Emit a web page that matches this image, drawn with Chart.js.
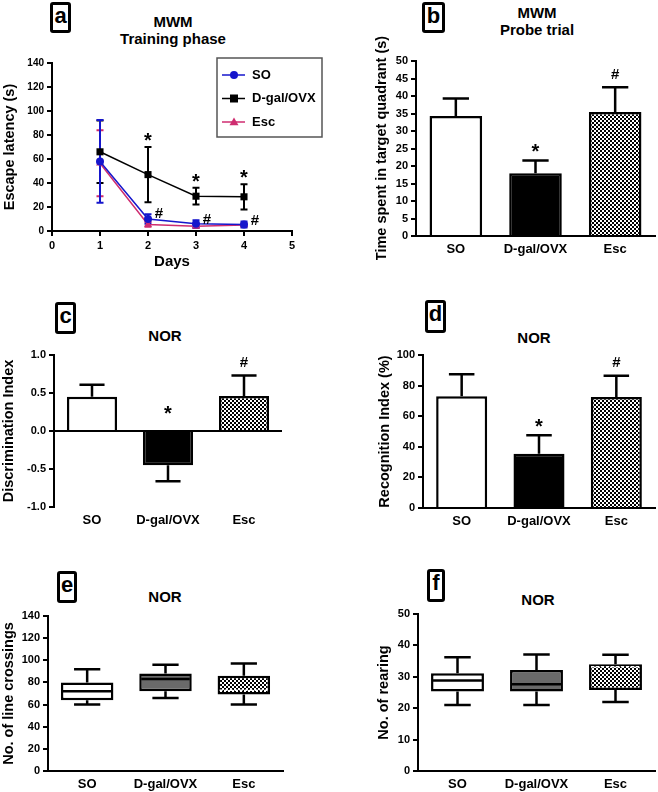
<!DOCTYPE html>
<html>
<head>
<meta charset="utf-8">
<script src="https://cdn.jsdelivr.net/npm/chart.js@4.4.0/dist/chart.umd.min.js"></script>
<style>
  body{margin:0;background:#fff;width:658px;height:792px;position:relative;overflow:hidden;
       font-family:"Liberation Sans",Arial,sans-serif;}
  canvas{position:absolute;}
  .lbl{position:absolute;border:3px solid #000;border-radius:3px;font-weight:bold;font-size:22px;
       text-align:center;box-sizing:border-box;line-height:22px;}
  .ttl{position:absolute;font-weight:bold;font-size:15px;text-align:center;width:200px;line-height:17px;}
</style>
</head>
<body>
<div class="lbl" style="left:50px;top:2px;width:21px;height:31px;">a</div>
<div class="lbl" style="left:422px;top:2px;width:23px;height:31px;">b</div>
<div class="lbl" style="left:55px;top:302px;width:21px;height:32px;">c</div>
<div class="lbl" style="left:425px;top:300px;width:21px;height:33px;">d</div>
<div class="lbl" style="left:57px;top:571px;width:20px;height:32px;">e</div>
<div class="lbl" style="left:427px;top:569px;width:18px;height:33px;">f</div>

<div class="ttl" style="left:73px;top:13px;">MWM<br>Training phase</div>
<div class="ttl" style="left:437px;top:4px;">MWM<br>Probe trial</div>
<div class="ttl" style="left:65px;top:327px;">NOR</div>
<div class="ttl" style="left:434px;top:329px;">NOR</div>
<div class="ttl" style="left:65px;top:588px;">NOR</div>
<div class="ttl" style="left:438px;top:591px;">NOR</div>

<canvas id="chartA" width="329" height="275" style="left:0;top:0;"></canvas>
<canvas id="chartB" width="328" height="260" style="left:330px;top:0;"></canvas>
<canvas id="chartC" width="329" height="192" style="left:0;top:340px;"></canvas>
<canvas id="chartD" width="328" height="192" style="left:330px;top:340px;"></canvas>
<canvas id="chartE" width="329" height="192" style="left:0;top:600px;"></canvas>
<canvas id="chartF" width="328" height="192" style="left:330px;top:600px;"></canvas>

<script>
const groups = ['SO', 'D-gal/OVX', 'Esc'];

// a - MWM training phase, mean +/- SEM
const days = [1, 2, 3, 4];
const latencySO = [58, 10, 6, 5.5];
const latencySOsem = [34.5, 4, 3, 2.5];
const latencyDgal = [66, 47, 29, 28.5];
const latencyDgalSem = [26, 23, 7, 10.5];
const latencyEsc = [56.5, 5.5, 4, 5];
const latencyEscSem = [27.5, 2, 1.5, 1];
const starsA = ['', '*', '*', '*'];
const hashA = ['', '#', '#', '#'];

// b - probe trial
const probeMean = [34.3, 17.9, 35.4];
const probeSem = [5.0, 3.7, 7.1];
// c - discrimination index
const discMean = [0.45, -0.45, 0.46];
const discSem = [0.16, 0.21, 0.27];
// d - recognition index
const recogMean = [73, 35.5, 72.5];
const recogSem = [14.5, 12, 14];
const sigBars = ['', '*', '#'];

// e - line crossings (box plot)
const crossMin = [60, 66, 60];
const crossQ1 = [64, 72, 69];
const crossMed = [72, 83, 73];
const crossQ3 = [80, 88, 86];
const crossMax = [92, 96, 97];
// f - rearing (box plot)
const rearMin = [21, 21, 22];
const rearQ1 = [25.3, 25.3, 25.8];
const rearMed = [28.8, 27.6, 33.2];
const rearQ3 = [31.1, 32.2, 34];
const rearMax = [36.2, 37.1, 37];

const FONT = '"Liberation Sans", Arial, sans-serif';
Chart.defaults.font.family = FONT;
Chart.defaults.color = '#000';
Chart.defaults.animation = false;
Chart.defaults.responsive = false;
Chart.defaults.maintainAspectRatio = false;
Chart.defaults.plugins.legend.display = false;
Chart.defaults.plugins.tooltip.enabled = false;

function checker() {
  const c = document.createElement('canvas');
  c.width = 4; c.height = 4;
  const g = c.getContext('2d');
  g.fillStyle = '#fff'; g.fillRect(0, 0, 4, 4);
  g.fillStyle = '#000'; g.fillRect(0, 0, 2, 2); g.fillRect(2, 2, 2, 2);
  return g.createPattern(c, 'repeat');
}

function drawMark(ctx, ch, x, yc) {
  if (!ch) return;
  ctx.save();
  ctx.fillStyle = '#000';
  ctx.textAlign = 'center';
  ctx.textBaseline = 'alphabetic';
  if (ch === '*') { ctx.font = 'bold 20px ' + FONT; ctx.fillText(ch, x, yc + 11.7); }
  else { ctx.font = 'bold 15px ' + FONT; ctx.fillText(ch, x, yc + 5.3); }
  ctx.restore();
}

function yAxis(min, max, step, title, width, size, fmt) {
  return {
    min: min, max: max,
    ticks: {stepSize: step, font: {size: size, weight: 'bold'}, color: '#000', padding: 3,
            callback: fmt || (v => v)},
    grid: {drawOnChartArea: false, tickLength: 5, color: '#000', lineWidth: 2},
    border: {color: '#000', width: 2},
    title: {display: true, text: title, color: '#000', font: {size: 14.5, weight: 'bold'},
            padding: {top: 0, bottom: 0}},
    afterFit: s => { s.width = width; }
  };
}

function xCat(height) {
  return {
    grid: {display: false, drawTicks: false},
    border: {color: '#000', width: 2},
    ticks: {font: {size: 13, weight: 'bold'}, color: '#000', padding: 6},
    afterFit: s => { s.height = height; }
  };
}

function barErrors(values, sem, sig) {
  return {
    id: 'barErrors',
    afterDatasetsDraw(chart) {
      const ctx = chart.ctx, y = chart.scales.y, bars = chart.getDatasetMeta(0).data;
      ctx.save();
      ctx.strokeStyle = '#000'; ctx.lineWidth = 2.5;
      bars.forEach((bar, i) => {
        const v = values[i], dir = v < 0 ? -1 : 1;
        const tip = y.getPixelForValue(v + dir * sem[i]);
        const half = bar.width / 4;
        ctx.beginPath();
        ctx.moveTo(bar.x, bar.y); ctx.lineTo(bar.x, tip);
        ctx.moveTo(bar.x - half, tip); ctx.lineTo(bar.x + half, tip);
        ctx.stroke();
        drawMark(ctx, sig[i], bar.x, v < 0 ? y.getPixelForValue(0) - 23 : tip - 14);
      });
      ctx.restore();
    }
  };
}

function boxWhiskers(mins, meds, maxs) {
  return {
    id: 'boxWhiskers',
    afterDatasetsDraw(chart) {
      const ctx = chart.ctx, y = chart.scales.y, boxes = chart.getDatasetMeta(0).data;
      ctx.save();
      ctx.lineWidth = 2.5;
      boxes.forEach((b, i) => {
        const top = Math.min(b.y, b.base), bot = Math.max(b.y, b.base);
        const hi = y.getPixelForValue(maxs[i]), lo = y.getPixelForValue(mins[i]);
        const half = b.width / 4;
        ctx.strokeStyle = '#000';
        ctx.setLineDash([]);
        ctx.beginPath();
        ctx.moveTo(b.x, top); ctx.lineTo(b.x, hi);
        ctx.moveTo(b.x - half, hi); ctx.lineTo(b.x + half, hi);
        ctx.moveTo(b.x, bot); ctx.lineTo(b.x, lo);
        ctx.moveTo(b.x - half, lo); ctx.lineTo(b.x + half, lo);
        ctx.stroke();
        const m = y.getPixelForValue(meds[i]);
        ctx.beginPath();
        ctx.moveTo(b.x - b.width / 2 + 2, m); ctx.lineTo(b.x + b.width / 2 - 2, m);
        if (i === 2) { ctx.strokeStyle = '#fff'; ctx.lineWidth = 1.5; ctx.setLineDash([3, 2]); }
        ctx.stroke();
        ctx.lineWidth = 2.5;
      });
      ctx.restore();
    }
  };
}

function barChart(id, pad, yOpts, xH, values, sem, sig, zeroLine) {
  const xs = xCat(xH);
  if (zeroLine) {
    xs.border.display = false;
    yOpts.grid.drawOnChartArea = true;
    yOpts.grid.color = c => (c.tick && c.tick.value === 0) ? '#000' : 'rgba(0,0,0,0)';
    yOpts.grid.tickColor = '#000';
  }
  return new Chart(document.getElementById(id), {
    type: 'bar',
    data: {
      labels: groups,
      datasets: [{
        data: values,
        backgroundColor: ['#fff', '#000', checker()],
        borderColor: '#000', borderWidth: 2.5, borderSkipped: 'start',
        barPercentage: 0.66, categoryPercentage: 1
      }]
    },
    options: {layout: {padding: pad}, scales: {x: xs, y: yOpts}},
    plugins: [barErrors(values, sem, sig)]
  });
}

function boxChart(id, pad, yOpts, xH, mins, q1, meds, q3, maxs) {
  return new Chart(document.getElementById(id), {
    type: 'bar',
    data: {
      labels: groups,
      datasets: [{
        data: groups.map((g, i) => [q1[i], q3[i]]),
        backgroundColor: ['#fff', '#6a6a6a', checker()],
        borderColor: '#000', borderWidth: 2.5, borderSkipped: false,
        barPercentage: 0.67, categoryPercentage: 1
      }]
    },
    options: {layout: {padding: pad}, scales: {x: xCat(xH), y: yOpts}},
    plugins: [boxWhiskers(mins, meds, maxs)]
  });
}

// ---- panel a ----
const seriesA = [
  {label: 'SO', mean: latencySO, sem: latencySOsem, color: '#1616cc', style: 'circle', r: 4},
  {label: 'D-gal/OVX', mean: latencyDgal, sem: latencyDgalSem, color: '#000', style: 'rect', r: 5},
  {label: 'Esc', mean: latencyEsc, sem: latencyEscSem, color: '#cf2d70', style: 'triangle', r: 4.5}
];

function marker(ctx, style, x, y, r, color) {
  ctx.fillStyle = color;
  ctx.beginPath();
  if (style === 'circle') ctx.arc(x, y, r, 0, Math.PI * 2);
  else if (style === 'rect') ctx.rect(x - r * 0.8, y - r * 0.8, r * 1.6, r * 1.6);
  else { ctx.moveTo(x, y - r); ctx.lineTo(x + r, y + r * 0.7); ctx.lineTo(x - r, y + r * 0.7); ctx.closePath(); }
  ctx.fill();
}

const lineErrors = {
  id: 'lineErrors',
  beforeDatasetsDraw(chart) {
    const {ctx, scales: {x, y}} = chart;
    ctx.save();
    ctx.lineWidth = 2;
    for (let d = seriesA.length - 1; d >= 0; d--) {
      const s = seriesA[d];
      ctx.strokeStyle = s.color;
      days.forEach((day, i) => {
        const px = x.getPixelForValue(day);
        const hi = y.getPixelForValue(s.mean[i] + s.sem[i]);
        const lo = y.getPixelForValue(Math.max(0, s.mean[i] - s.sem[i]));
        ctx.beginPath();
        ctx.moveTo(px, hi); ctx.lineTo(px, lo);
        ctx.moveTo(px - 3.5, hi); ctx.lineTo(px + 3.5, hi);
        ctx.moveTo(px - 3.5, lo); ctx.lineTo(px + 3.5, lo);
        ctx.stroke();
      });
    }
    ctx.restore();
  },
  afterDatasetsDraw(chart) {
    const {ctx, scales: {x, y}} = chart;
    days.forEach((day, i) => {
      const px = x.getPixelForValue(day);
      drawMark(ctx, starsA[i], px, y.getPixelForValue(latencyDgal[i] + latencyDgalSem[i]) - 12);
      drawMark(ctx, hashA[i], px + 11, y.getPixelForValue(latencySO[i] + latencySOsem[i]) - 2);
    });
  },
  afterDraw(chart) {
    const ctx = chart.ctx;
    ctx.save();
    ctx.strokeStyle = '#555'; ctx.lineWidth = 1.5;
    ctx.strokeRect(217, 58, 105, 79);
    ctx.font = 'bold 13px ' + FONT;
    ctx.textBaseline = 'middle';
    seriesA.forEach((s, k) => {
      const ly = 75 + k * 23.5;
      ctx.strokeStyle = s.color; ctx.lineWidth = 1.5;
      ctx.beginPath(); ctx.moveTo(222, ly); ctx.lineTo(245, ly); ctx.stroke();
      marker(ctx, s.style, 234, ly, s.r, s.color);
      ctx.fillStyle = '#000';
      ctx.fillText(s.label, 252, ly);
    });
    ctx.restore();
  }
};

const yA = yAxis(0, 140, 20, 'Escape latency (s)', 51, 10);
new Chart(document.getElementById('chartA'), {
  type: 'line',
  data: {
    datasets: seriesA.map(s => ({
      label: s.label,
      data: days.map((d, i) => ({x: d, y: s.mean[i]})),
      borderColor: s.color, backgroundColor: s.color, borderWidth: 1.5,
      pointStyle: s.style, pointRadius: s.r, pointBorderWidth: 0, tension: 0
    }))
  },
  options: {
    layout: {padding: {left: 1, top: 63, right: 37, bottom: 0}},
    scales: {
      x: {
        type: 'linear', min: 0, max: 5,
        ticks: {stepSize: 1, font: {size: 11, weight: 'bold'}, color: '#000', padding: 3},
        grid: {drawOnChartArea: false, tickLength: 5, color: '#000', lineWidth: 2},
        border: {color: '#000', width: 2},
        title: {display: true, text: 'Days', color: '#000', font: {size: 15, weight: 'bold'},
                padding: {top: 0, bottom: 4}},
        afterFit: s => { s.height = 44; }
      },
      y: yA
    }
  },
  plugins: [lineErrors]
});

// ---- panels b, c, d ----
barChart('chartB', {left: 43, top: 61, right: 3, bottom: 0},
  yAxis(0, 50, 5, 'Time spent in target quadrant (s)', 43, 11), 24, probeMean, probeSem, sigBars);

barChart('chartC', {left: 0, top: 15, right: 47, bottom: 0},
  yAxis(-1, 1, 0.5, 'Discrimination Index', 54, 11, v => v.toFixed(1)), 25, discMean, discSem, sigBars, true);

barChart('chartD', {left: 46, top: 15, right: 3, bottom: 0},
  yAxis(0, 100, 20, 'Recognition Index (%)', 47, 11), 24, recogMean, recogSem, sigBars);

// ---- panels e, f ----
boxChart('chartE', {left: 0, top: 16, right: 46, bottom: 0},
  yAxis(0, 140, 20, 'No. of line crossings', 48, 11), 21, crossMin, crossQ1, crossMed, crossQ3, crossMax);

boxChart('chartF', {left: 45, top: 14, right: 3, bottom: 0},
  yAxis(0, 50, 10, 'No. of rearing', 43, 11), 21, rearMin, rearQ1, rearMed, rearQ3, rearMax);
</script>
</body>
</html>
